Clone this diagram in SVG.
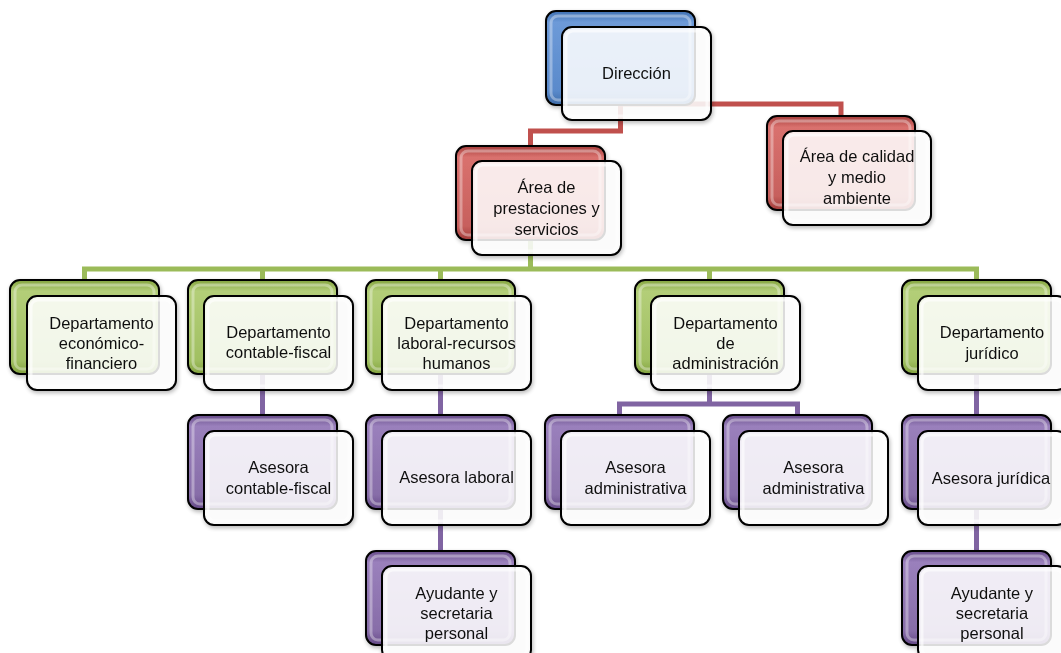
<svg xmlns="http://www.w3.org/2000/svg" width="1061" height="653" viewBox="0 0 1061 653">
<defs>
<linearGradient id="gBlue" x1="0" y1="0" x2="0" y2="1"><stop offset="0" stop-color="#3E70B3"/><stop offset="0.12" stop-color="#6D9AD8"/><stop offset="0.85" stop-color="#5A8ACB"/><stop offset="1" stop-color="#3D6BA8"/></linearGradient>
<linearGradient id="gRed" x1="0" y1="0" x2="0" y2="1"><stop offset="0" stop-color="#A63E3B"/><stop offset="0.12" stop-color="#D9716E"/><stop offset="0.85" stop-color="#C7605D"/><stop offset="1" stop-color="#A23C39"/></linearGradient>
<linearGradient id="gGreen" x1="0" y1="0" x2="0" y2="1"><stop offset="0" stop-color="#84A43F"/><stop offset="0.12" stop-color="#B3CE78"/><stop offset="0.85" stop-color="#A1C062"/><stop offset="1" stop-color="#82A23E"/></linearGradient>
<linearGradient id="gPurple" x1="0" y1="0" x2="0" y2="1"><stop offset="0" stop-color="#674C8A"/><stop offset="0.12" stop-color="#9A80BC"/><stop offset="0.85" stop-color="#876DA8"/><stop offset="1" stop-color="#654A87"/></linearGradient>
<filter id="sh" x="-10%" y="-10%" width="130%" height="130%"><feGaussianBlur in="SourceAlpha" stdDeviation="2"/><feOffset dx="1" dy="2"/><feComponentTransfer><feFuncA type="linear" slope="0.3"/></feComponentTransfer><feMerge><feMergeNode/><feMergeNode in="SourceGraphic"/></feMerge></filter>
</defs>
<style>
.back{stroke:#000;stroke-width:2}
.bev{fill:none;stroke:#fff;stroke-opacity:0.35;stroke-width:3}
.front{fill:#fff;fill-opacity:0.86;stroke:#000;stroke-width:2}
.fbev{fill:none;stroke:#fff;stroke-opacity:0.6;stroke-width:3}
.t{font-family:"Liberation Sans",Arial,sans-serif;font-size:16.5px;fill:#111;text-anchor:middle}
.c{fill:none;stroke-width:5;stroke-linejoin:miter}
.red{stroke:#C0504D}.green{stroke:#9BBB59}.purple{stroke:#8064A2}
</style>
<rect width="1061" height="653" fill="#fff"/>
<g id="connectors">
<path class="c red" d="M620.5 73V131H530.5V146"/>
<path class="c red" d="M620.5 104H841V116"/>
<path class="c green" d="M530.5 193V269"/>
<path class="c green" d="M84.5 280V269H976.5V280"/>
<path class="c green" d="M262.5 269V280M440.5 269V280M709.5 269V280"/>
<path class="c purple" d="M262.5 327V415"/>
<path class="c purple" d="M440.5 327V551"/>
<path class="c purple" d="M709.5 327V404"/>
<path class="c purple" d="M619.5 415V404H797.5V415"/>
<path class="c purple" d="M976.5 327V551"/>
</g>
<g id="n-direccion" filter="url(#sh)">
<rect class="back" x="546" y="11" width="149" height="94" rx="10" fill="url(#gBlue)"/>
<rect class="bev" x="551" y="16" width="139" height="84" rx="7"/>
<rect class="front" x="562" y="27" width="149" height="93" rx="10"/>
<rect class="fbev" x="566" y="31" width="141" height="85" rx="7"/>
<text class="t" x="636.5" y="79">Dirección</text>
</g>
<g id="n-prestaciones" filter="url(#sh)">
<rect class="back" x="456" y="146" width="149" height="94" rx="10" fill="url(#gRed)"/>
<rect class="bev" x="461" y="151" width="139" height="84" rx="7"/>
<rect class="front" x="472" y="161" width="149" height="94" rx="10"/>
<rect class="fbev" x="476" y="165" width="141" height="86" rx="7"/>
<text class="t" x="546.5" y="193">Área de</text>
<text class="t" x="546.5" y="214">prestaciones y</text>
<text class="t" x="546.5" y="235">servicios</text>
</g>
<g id="n-calidad" filter="url(#sh)">
<rect class="back" x="767" y="116" width="148" height="94" rx="10" fill="url(#gRed)"/>
<rect class="bev" x="772" y="121" width="138" height="84" rx="7"/>
<rect class="front" x="783" y="131" width="148" height="94" rx="10"/>
<rect class="fbev" x="787" y="135" width="140" height="86" rx="7"/>
<text class="t" x="857" y="162">Área de calidad</text>
<text class="t" x="857" y="183">y medio</text>
<text class="t" x="857" y="204">ambiente</text>
</g>
<g id="n-economico" filter="url(#sh)">
<rect class="back" x="10" y="280" width="149" height="94" rx="10" fill="url(#gGreen)"/>
<rect class="bev" x="15" y="285" width="139" height="84" rx="7"/>
<rect class="front" x="27" y="296" width="149" height="94" rx="10"/>
<rect class="fbev" x="31" y="300" width="141" height="86" rx="7"/>
<text class="t" x="101.5" y="329">Departamento</text>
<text class="t" x="101.5" y="349">económico-</text>
<text class="t" x="101.5" y="369">financiero</text>
</g>
<g id="n-contable" filter="url(#sh)">
<rect class="back" x="188" y="280" width="149" height="94" rx="10" fill="url(#gGreen)"/>
<rect class="bev" x="193" y="285" width="139" height="84" rx="7"/>
<rect class="front" x="204" y="296" width="149" height="94" rx="10"/>
<rect class="fbev" x="208" y="300" width="141" height="86" rx="7"/>
<text class="t" x="278.5" y="338">Departamento</text>
<text class="t" x="278.5" y="358">contable-fiscal</text>
</g>
<g id="n-laboral" filter="url(#sh)">
<rect class="back" x="366" y="280" width="149" height="94" rx="10" fill="url(#gGreen)"/>
<rect class="bev" x="371" y="285" width="139" height="84" rx="7"/>
<rect class="front" x="382" y="296" width="149" height="94" rx="10"/>
<rect class="fbev" x="386" y="300" width="141" height="86" rx="7"/>
<text class="t" x="456.5" y="329">Departamento</text>
<text class="t" x="456.5" y="349">laboral-recursos</text>
<text class="t" x="456.5" y="369">humanos</text>
</g>
<g id="n-administracion" filter="url(#sh)">
<rect class="back" x="635" y="280" width="149" height="94" rx="10" fill="url(#gGreen)"/>
<rect class="bev" x="640" y="285" width="139" height="84" rx="7"/>
<rect class="front" x="651" y="296" width="149" height="94" rx="10"/>
<rect class="fbev" x="655" y="300" width="141" height="86" rx="7"/>
<text class="t" x="725.5" y="329">Departamento</text>
<text class="t" x="725.5" y="349">de</text>
<text class="t" x="725.5" y="369">administración</text>
</g>
<g id="n-juridico" filter="url(#sh)">
<rect class="back" x="902" y="280" width="149" height="94" rx="10" fill="url(#gGreen)"/>
<rect class="bev" x="907" y="285" width="139" height="84" rx="7"/>
<rect class="front" x="918" y="296" width="149" height="94" rx="10"/>
<rect class="fbev" x="922" y="300" width="141" height="86" rx="7"/>
<text class="t" x="992" y="338">Departamento</text>
<text class="t" x="992" y="359">jurídico</text>
</g>
<g id="n-ase-contable" filter="url(#sh)">
<rect class="back" x="188" y="415" width="149" height="94" rx="10" fill="url(#gPurple)"/>
<rect class="bev" x="193" y="420" width="139" height="84" rx="7"/>
<rect class="front" x="204" y="431" width="149" height="94" rx="10"/>
<rect class="fbev" x="208" y="435" width="141" height="86" rx="7"/>
<text class="t" x="278.5" y="473">Asesora</text>
<text class="t" x="278.5" y="494">contable-fiscal</text>
</g>
<g id="n-ase-laboral" filter="url(#sh)">
<rect class="back" x="366" y="415" width="149" height="94" rx="10" fill="url(#gPurple)"/>
<rect class="bev" x="371" y="420" width="139" height="84" rx="7"/>
<rect class="front" x="382" y="431" width="149" height="94" rx="10"/>
<rect class="fbev" x="386" y="435" width="141" height="86" rx="7"/>
<text class="t" x="456.5" y="483">Asesora laboral</text>
</g>
<g id="n-ase-admin1" filter="url(#sh)">
<rect class="back" x="545" y="415" width="149" height="94" rx="10" fill="url(#gPurple)"/>
<rect class="bev" x="550" y="420" width="139" height="84" rx="7"/>
<rect class="front" x="561" y="431" width="149" height="94" rx="10"/>
<rect class="fbev" x="565" y="435" width="141" height="86" rx="7"/>
<text class="t" x="635.5" y="473">Asesora</text>
<text class="t" x="635.5" y="494">administrativa</text>
</g>
<g id="n-ase-admin2" filter="url(#sh)">
<rect class="back" x="723" y="415" width="149" height="94" rx="10" fill="url(#gPurple)"/>
<rect class="bev" x="728" y="420" width="139" height="84" rx="7"/>
<rect class="front" x="739" y="431" width="149" height="94" rx="10"/>
<rect class="fbev" x="743" y="435" width="141" height="86" rx="7"/>
<text class="t" x="813.5" y="473">Asesora</text>
<text class="t" x="813.5" y="494">administrativa</text>
</g>
<g id="n-ase-juridica" filter="url(#sh)">
<rect class="back" x="902" y="415" width="149" height="94" rx="10" fill="url(#gPurple)"/>
<rect class="bev" x="907" y="420" width="139" height="84" rx="7"/>
<rect class="front" x="918" y="431" width="149" height="94" rx="10"/>
<rect class="fbev" x="922" y="435" width="141" height="86" rx="7"/>
<text class="t" x="991" y="484">Asesora jurídica</text>
</g>
<g id="n-ayudante-laboral" filter="url(#sh)">
<rect class="back" x="366" y="551" width="149" height="94" rx="10" fill="url(#gPurple)"/>
<rect class="bev" x="371" y="556" width="139" height="84" rx="7"/>
<rect class="front" x="382" y="566" width="149" height="94" rx="10"/>
<rect class="fbev" x="386" y="570" width="141" height="86" rx="7"/>
<text class="t" x="456.5" y="599">Ayudante y</text>
<text class="t" x="456.5" y="619">secretaria</text>
<text class="t" x="456.5" y="639">personal</text>
</g>
<g id="n-ayudante-juridico" filter="url(#sh)">
<rect class="back" x="902" y="551" width="149" height="94" rx="10" fill="url(#gPurple)"/>
<rect class="bev" x="907" y="556" width="139" height="84" rx="7"/>
<rect class="front" x="918" y="566" width="149" height="94" rx="10"/>
<rect class="fbev" x="922" y="570" width="141" height="86" rx="7"/>
<text class="t" x="992" y="599">Ayudante y</text>
<text class="t" x="992" y="619">secretaria</text>
<text class="t" x="992" y="639">personal</text>
</g>
</svg>
